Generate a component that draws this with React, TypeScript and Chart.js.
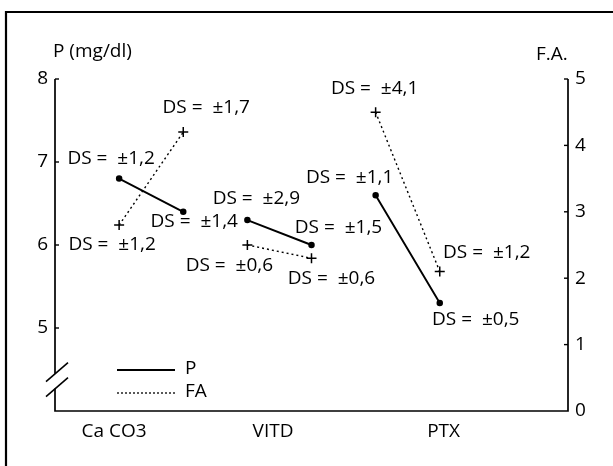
import React, { useEffect, useRef } from "react";
import { Chart, registerables } from "chart.js";

Chart.register(...registerables);

// ---- data ----
const categories = ["Ca CO3", "VITD", "PTX"];
const categoryLabelPos = [0.92, 3.4, 6.06];
const pPre = [6.8, 6.3, 6.6];
const pPost = [6.4, 6.0, 5.3];
const faPre = [2.8, 2.5, 4.5];
const faPost = [4.2, 2.3, 2.1];
const dsPPre = ["±1,2", "±2,9", "±1,1"];
const dsPPost = ["±1,4", "±1,5", "±0,5"];
const dsFaPre = ["±1,2", "±0,6", "±4,1"];
const dsFaPost = ["±1,7", "±0,6", "±1,2"];
const leftTicks = [5, 6, 7, 8];
const rightTicks = [0, 1, 2, 3, 4, 5];

// ---- layout (pixel offsets of DS labels relative to their points) ----
const offPPre = [[-8, -20], [9, -22], [-26, -18]];
const offPPost = [[11, 10], [27, -17], [36, 16]];
const offFaPre = [[-7, 20], [-18, 21], [-1, -24]];
const offFaPost = [[23, -25], [20, 20], [47, -19]];

const FONT = '19px "Open Sans", "DejaVu Sans", sans-serif';

function buildSeries(pre: number[], post: number[]) {
  const out: { x: number; y: number | null }[] = [];
  pre.forEach((v, i) => {
    out.push({ x: 2 * i + 1, y: v });
    out.push({ x: 2 * i + 2, y: post[i] });
    out.push({ x: 2 * i + 2.5, y: null });
  });
  return out;
}

const decorPlugin = {
  id: "decor",
  afterDraw(chart: any) {
    const ctx = chart.ctx as CanvasRenderingContext2D;
    const xs = chart.scales.x;
    const yl = chart.scales.y;
    const yr = chart.scales.y1;
    const { left, right, top, bottom } = chart.chartArea;
    ctx.save();
    ctx.strokeStyle = "#000";
    ctx.fillStyle = "#000";
    ctx.lineCap = "butt";

    // outer frame
    ctx.lineWidth = 2.2;
    ctx.beginPath();
    ctx.moveTo(6, 470);
    ctx.lineTo(6, 12);
    ctx.lineTo(620, 12);
    ctx.stroke();

    // axes
    const b1 = yl.getPixelForValue(4.45);
    const b2 = yl.getPixelForValue(4.27);
    ctx.lineWidth = 1.7;
    ctx.beginPath();
    ctx.moveTo(left, top);
    ctx.lineTo(left, b1);
    ctx.moveTo(left, b2);
    ctx.lineTo(left, bottom);
    ctx.lineTo(right, bottom);
    ctx.lineTo(right, top);
    ctx.stroke();
    // break marks
    ctx.lineWidth = 1.6;
    [b1, b2].forEach((by) => {
      ctx.beginPath();
      ctx.moveTo(left - 9, by + 8);
      ctx.lineTo(left + 13, by - 11);
      ctx.stroke();
    });
    // ticks
    ctx.lineWidth = 1.4;
    leftTicks.forEach((t) => {
      const y = yl.getPixelForValue(t);
      ctx.beginPath();
      ctx.moveTo(left, y);
      ctx.lineTo(left + 4, y);
      ctx.stroke();
    });
    rightTicks.forEach((t) => {
      if (t === 0) return;
      const y = yr.getPixelForValue(t);
      ctx.beginPath();
      ctx.moveTo(right, y);
      ctx.lineTo(right - 4, y);
      ctx.stroke();
    });

    ctx.font = FONT;
    ctx.textBaseline = "middle";
    // tick labels
    ctx.textAlign = "right";
    leftTicks.forEach((t) => {
      ctx.fillText(String(t), left - 7, yl.getPixelForValue(t));
    });
    ctx.textAlign = "left";
    rightTicks.forEach((t) => {
      ctx.fillText(String(t), right + 7, yr.getPixelForValue(t));
    });
    // titles
    ctx.fillText("P (mg/dl)", left - 2, top - 27);
    ctx.fillText("F.A.", right - 32, top - 24);
    // category labels
    ctx.textAlign = "center";
    categories.forEach((c, i) => {
      ctx.fillText(c, xs.getPixelForValue(categoryLabelPos[i]), bottom + 21);
    });

    // DS labels
    const drawDs = (dsIndex: number, texts: string[], offs: number[][], post: boolean) => {
      const meta = chart.getDatasetMeta(dsIndex);
      texts.forEach((t, i) => {
        const el = meta.data[3 * i + (post ? 1 : 0)];
        ctx.fillText("DS =  " + t, el.x + offs[i][0], el.y + offs[i][1]);
      });
    };
    drawDs(0, dsPPre, offPPre, false);
    drawDs(0, dsPPost, offPPost, true);
    drawDs(1, dsFaPre, offFaPre, false);
    drawDs(1, dsFaPost, offFaPost, true);

    // legend
    const lx = left + 62;
    const ly1 = 370;
    const ly2 = 393;
    ctx.lineWidth = 1.9;
    ctx.beginPath();
    ctx.moveTo(lx, ly1);
    ctx.lineTo(lx + 58, ly1);
    ctx.stroke();
    ctx.lineWidth = 1.3;
    ctx.setLineDash([2, 2]);
    ctx.beginPath();
    ctx.moveTo(lx, ly2);
    ctx.lineTo(lx + 58, ly2);
    ctx.stroke();
    ctx.setLineDash([]);
    ctx.textAlign = "left";
    ctx.fillText("P", lx + 68, ly1 - 1);
    ctx.fillText("FA", lx + 68, ly2 - 1);

    ctx.restore();
  },
};

export default function App() {
  const ref = useRef<HTMLCanvasElement>(null);
  useEffect(() => {
    if (!ref.current) return;
    const chart = new Chart(ref.current, {
      type: "line",
      data: {
        datasets: [
          {
            label: "P",
            data: buildSeries(pPre, pPost),
            yAxisID: "y",
            borderColor: "#000",
            backgroundColor: "#000",
            borderWidth: 1.9,
            pointRadius: 2.3,
            pointStyle: "circle",
            pointBackgroundColor: "#000",
            pointBorderColor: "#000",
            spanGaps: false,
          },
          {
            label: "FA",
            data: buildSeries(faPre, faPost),
            yAxisID: "y1",
            borderColor: "#000",
            backgroundColor: "#000",
            borderWidth: 1.4,
            borderDash: [2, 3],
            pointRadius: 5,
            pointStyle: "cross",
            pointBorderWidth: 1.5,
            pointBorderColor: "#000",
            spanGaps: false,
          },
        ],
      },
      options: {
        animation: false,
        responsive: false,
        devicePixelRatio: 1,
        layout: { padding: { left: 55, right: 45, top: 79, bottom: 55 } },
        plugins: { legend: { display: false }, tooltip: { enabled: false } },
        scales: {
          x: { type: "linear", min: 0, max: 8, display: false },
          y: { type: "linear", min: 4, max: 8, display: false },
          y1: { type: "linear", min: 0, max: 5, display: false },
        },
      },
      plugins: [decorPlugin],
    });
    return () => chart.destroy();
  }, []);
  return (
    <div style={{ position: "absolute", left: 0, top: 0, width: 613, height: 466, background: "#fff" }}>
      <canvas ref={ref} width={613} height={466} style={{ display: "block" }} />
    </div>
  );
}
